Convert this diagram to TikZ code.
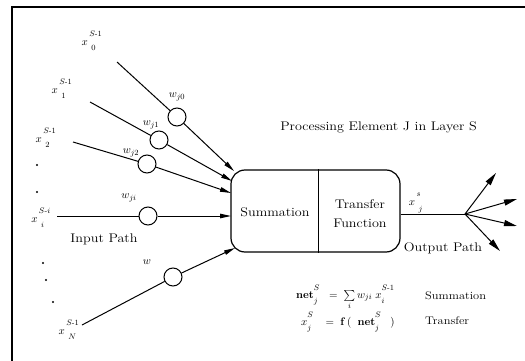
\documentclass[tikz,border=0pt]{standalone}
\usepackage{graphicx}
\usepackage{amsmath}
\usetikzlibrary{arrows.meta}
\newcommand{\wtxt}[1]{\scalebox{1.13}[1]{#1}}
\newcommand{\xlab}[2]{$x^{\raisebox{5pt}{$\scriptstyle\,#1$}}_{\raisebox{-2.5pt}{$\scriptstyle\hspace{3.5pt}#2$}}$}
\newcommand{\sps}[2]{^{\raisebox{4pt}{$\scriptstyle #1$}}_{\raisebox{-2.5pt}{$\scriptstyle #2$}}}
\tikzset{
  txt/.style={font=\fontsize{12.5}{15}\selectfont, inner sep=0pt},
  smalltxt/.style={font=\fontsize{11}{13}\selectfont, inner sep=0pt},
  lab/.style={font=\fontsize{11}{13}\selectfont, inner sep=0pt},
  wcirc/.style={circle, draw, line width=1pt, minimum size=18pt, inner sep=0pt, fill=white},
  wire/.style={line width=1pt},
  inarrow/.style={line width=1pt, -{Triangle[length=11pt,width=4.5pt]}},
  outarrow/.style={line width=1pt, -{Triangle[length=13pt,width=6pt]}},
  pebox/.style={draw, line width=1.2pt, rounded corners=14pt, minimum width=169pt, minimum height=82pt, inner sep=0pt},
  frameline/.style={line width=1.5pt},
  dotmark/.style={circle, fill, inner sep=0pt, minimum size=2.4pt}
}
\begin{document}
\begin{tikzpicture}[x=1pt,y=-1pt]
\useasboundingbox (0,0) rectangle (525,361);
% frame
\coordinate (fr) at (525,7);
\coordinate (fc) at (12,7);
\coordinate (fb) at (12,361);
\draw[frameline] (fr) -- (fc) -- (fb);

% processing element
\node[pebox] (pe) at (315.5,211) {};
\coordinate (div) at (318,211);
\draw[line width=1pt] (pe.north -| div) -- (pe.south -| div);
\node[txt] (sum) at (275,212) {\wtxt{Summation}};
\node[txt, align=center] (tf) at (360,213.5) {\wtxt{Transfer}\\[4pt]\wtxt{Function}};
\node[txt] (title) at (378.5,127) {\wtxt{Processing Element J in Layer S}};

% inputs
\coordinate (s0) at (117,62);
\coordinate (s1) at (90,102);
\coordinate (s2) at (73,142);
\coordinate (si) at (57,216);
\coordinate (sN) at (82,325);
\node[wcirc] (c0) at (177,117) {};
\node[wcirc] (c1) at (159,140) {};
\node[wcirc] (c2) at (147,164) {};
\node[wcirc] (ci) at (148,216) {};
\node[wcirc] (cN) at (173,277) {};
\coordinate (t0) at (234,171);
\coordinate (t1) at (232,181);
\coordinate (t2) at (231,193);
\coordinate (ti) at (231,216);
\coordinate (tN) at (235,248);
\draw[wire] (s0) -- (c0);
\draw[wire] (s1) -- (c1);
\draw[wire] (s2) -- (c2);
\draw[wire] (si) -- (ci);
\draw[wire] (sN) -- (cN);
\draw[inarrow] (c0) -- (t0);
\draw[inarrow] (c1) -- (t1);
\draw[inarrow] (c2) -- (t2);
\draw[inarrow] (ci) -- (ti);
\draw[inarrow] (cN) -- (tN);

% input labels
\node[lab] (x0) at (92,41) {\xlab{S\text{-}1}{0}};
\node[lab] (x1) at (62,89) {\xlab{S\text{-}1}{1}};
\node[lab] (x2) at (46,138) {\xlab{S\text{-}1}{2}};
\node[lab] (xi) at (41,218) {\xlab{S\text{-}i}{i}};
\node[lab] (xN) at (69,330) {\xlab{S\text{-}1}{N}};
\node[lab] (w0) at (177,97) {$w_{j0}$};
\node[lab] (w1) at (151,125) {$w_{j1}$};
\node[lab] (w2) at (131,153) {$w_{j2}$};
\node[lab] (wi) at (129,198) {$w_{ji}$};
\node[lab] (wN) at (147,262) {$w$};
\node[txt] (inpath) at (104,239) {\wtxt{Input Path}};
\node[dotmark] (d1) at (37,165) {};
\node[dotmark] (d2) at (37,192) {};
\node[dotmark] (d3) at (43,263) {};
\node[dotmark] (d4) at (46,280) {};
\node[dotmark] (d5) at (53,302) {};

% output
\coordinate (hub) at (465,214);
\draw[wire] (pe.east |- hub) -- (hub);
\coordinate (o1) at (496,173);
\coordinate (o2) at (517,199);
\coordinate (o3) at (517,226);
\coordinate (o4) at (500,251);
\draw[outarrow] (hub) -- (o1);
\draw[outarrow] (hub) -- (o2);
\draw[outarrow] (hub) -- (o3);
\draw[outarrow] (hub) -- (o4);
\node[lab] (xo) at (416,203) {\xlab{s}{j}};
\node[txt] (outpath) at (443,248) {\wtxt{Output Path}};

% formulas
\node[smalltxt, anchor=west] (f1) at (296,297) {$\mathbf{net}\sps{S}{j} \;\;=\; \sum\limits_{i} w_{ji}\; x\sps{S\text{-}1}{i}$};
\node[smalltxt, anchor=west] (f2) at (301,322) {$x\sps{S}{j} \;\;\;=\; \mathbf{f}\,(\;\;\mathbf{net}\sps{S}{j}\;\;\;)$};
\node[smalltxt, anchor=west] (l1) at (425,296) {\wtxt{Summation}};
\node[smalltxt, anchor=west] (l2) at (425,321) {\wtxt{Transfer}};
\end{tikzpicture}
\end{document}
